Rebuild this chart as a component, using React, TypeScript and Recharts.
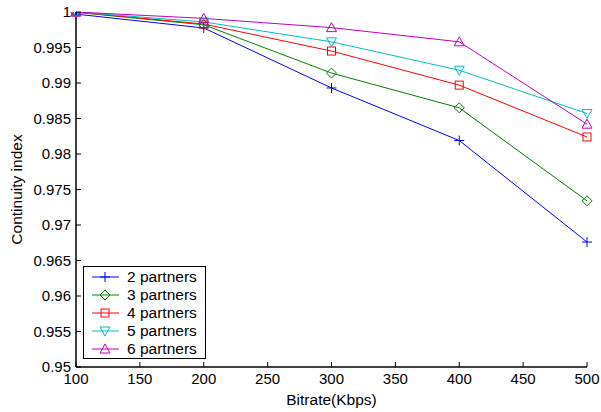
import React from 'react';
import { LineChart, Line, XAxis, YAxis } from 'recharts';

const bitrates = [100, 200, 300, 400, 500];
const partners2 = [0.9997, 0.99775, 0.9893, 0.9819, 0.9676];
const partners3 = [0.99995, 0.9982, 0.9914, 0.9865, 0.9734];
const partners4 = [1.0, 0.9983, 0.9945, 0.9897, 0.9824];
const partners5 = [1.0, 0.9986, 0.9958, 0.9918, 0.9857];
const partners6 = [1.0, 0.9991, 0.9978, 0.9958, 0.9842];
const xTicks = [100, 150, 200, 250, 300, 350, 400, 450, 500];
const yTicks = [0.95, 0.955, 0.96, 0.965, 0.97, 0.975, 0.98, 0.985, 0.99, 0.995, 1];

const data = bitrates.map((x, i) => ({
  x,
  p2: partners2[i],
  p3: partners3[i],
  p4: partners4[i],
  p5: partners5[i],
  p6: partners6[i],
}));

const FONT = '"Liberation Sans", Arial, Helvetica, sans-serif';
const TICK = 5;

type MarkerKind = 'plus' | 'diamond' | 'square' | 'down' | 'up';

const series: { key: string; name: string; color: string; marker: MarkerKind }[] = [
  { key: 'p2', name: '2 partners', color: '#0000ff', marker: 'plus' },
  { key: 'p3', name: '3 partners', color: '#008000', marker: 'diamond' },
  { key: 'p4', name: '4 partners', color: '#ff0000', marker: 'square' },
  { key: 'p5', name: '5 partners', color: '#00bfbf', marker: 'down' },
  { key: 'p6', name: '6 partners', color: '#bf00bf', marker: 'up' },
];

function Marker({ kind, cx, cy, color }: { kind: MarkerKind; cx: number; cy: number; color: string }) {
  const s = { fill: 'none', stroke: color, strokeWidth: 1 };
  if (kind === 'plus')
    return (
      <g>
        <line x1={cx - 5} y1={cy} x2={cx + 5} y2={cy} {...s} />
        <line x1={cx} y1={cy - 5} x2={cx} y2={cy + 5} {...s} />
      </g>
    );
  if (kind === 'diamond')
    return <polygon points={`${cx},${cy - 5} ${cx + 5},${cy} ${cx},${cy + 5} ${cx - 5},${cy}`} {...s} />;
  if (kind === 'square') return <rect x={cx - 4} y={cy - 4} width={8} height={8} {...s} />;
  if (kind === 'down')
    return <polygon points={`${cx - 5},${cy - 4} ${cx + 5},${cy - 4} ${cx},${cy + 5}`} {...s} />;
  return <polygon points={`${cx - 5},${cy + 4} ${cx + 5},${cy + 4} ${cx},${cy - 5}`} {...s} />;
}

const fmtY = (v: number) => String(Number(v.toFixed(3)));

const BottomTick = (props: any) => {
  const { x, y, payload } = props;
  return (
    <g>
      <line x1={x} y1={y} x2={x} y2={y - TICK} stroke="#000" />
      <text x={x} y={y + 17} textAnchor="middle" fontSize={15} fontFamily={FONT} fill="#000">
        {payload.value}
      </text>
    </g>
  );
};

const TopTick = (props: any) => {
  const { x, y } = props;
  return <line x1={x} y1={y} x2={x} y2={y + TICK} stroke="#000" />;
};

const LeftTick = (props: any) => {
  const { x, y, payload } = props;
  return (
    <g>
      <line x1={x} y1={y} x2={x + TICK} y2={y} stroke="#000" />
      <text x={x - 5} y={y + 5} textAnchor="end" fontSize={15} fontFamily={FONT} fill="#000">
        {fmtY(payload.value)}
      </text>
    </g>
  );
};

const RightTick = (props: any) => {
  const { x, y } = props;
  return <line x1={x} y1={y} x2={x - TICK} y2={y} stroke="#000" />;
};

const LegendBox = () => (
  <div
    style={{
      position: 'absolute',
      left: 83,
      top: 266,
      width: 123,
      height: 93,
      border: '1.5px solid #000',
      background: '#fff',
      boxSizing: 'border-box',
      paddingTop: 1,
    }}
  >
    {series.map((s) => (
      <div key={s.key} style={{ display: 'flex', alignItems: 'center', height: 18, fontFamily: FONT, fontSize: 15.5 }}>
        <svg width={38} height={18} style={{ flex: 'none' }}>
          <line x1={8} y1={9} x2={35} y2={9} stroke={s.color} strokeWidth={1} />
          <Marker kind={s.marker} cx={21} cy={9} color={s.color} />
        </svg>
        <span style={{ marginLeft: 5, color: '#000' }}>{s.name}</span>
      </div>
    ))}
  </div>
);

export default function App() {
  return (
    <div style={{ position: 'absolute', left: 0, top: 0, width: 601, height: 412, background: '#fff' }}>
      <LineChart width={601} height={412} data={data} margin={{ top: 12, right: 14, bottom: 0, left: 0 }}>
        <XAxis
          xAxisId="bottom"
          dataKey="x"
          type="number"
          domain={[100, 500]}
          ticks={xTicks}
          height={45}
          tickSize={0}
          tickMargin={0}
          tick={<BottomTick />}
          axisLine={{ stroke: '#000', strokeWidth: 1.5 }}
          tickLine={false}
          interval={0}
          label={{ value: 'Bitrate(Kbps)', position: 'insideBottom', offset: 7, fontSize: 15.5, fontFamily: FONT, fill: '#000' }}
        />
        <XAxis
          xAxisId="top"
          orientation="top"
          dataKey="x"
          type="number"
          domain={[100, 500]}
          ticks={xTicks}
          height={0}
          tickSize={0}
          tickMargin={0}
          tick={<TopTick />}
          axisLine={{ stroke: '#000', strokeWidth: 1.5 }}
          tickLine={false}
          interval={0}
        />
        <YAxis
          yAxisId="left"
          type="number"
          domain={[0.95, 1]}
          ticks={yTicks}
          width={76}
          tickSize={0}
          tickMargin={0}
          tick={<LeftTick />}
          axisLine={{ stroke: '#000', strokeWidth: 1.5 }}
          tickLine={false}
          interval={0}
          allowDataOverflow
          label={{
            value: 'Continuity index',
            angle: -90,
            position: 'insideLeft',
            offset: 16,
            style: { textAnchor: 'middle' },
            fontSize: 15.5,
            fontFamily: FONT,
            fill: '#000',
          }}
        />
        <YAxis
          yAxisId="right"
          orientation="right"
          type="number"
          domain={[0.95, 1]}
          ticks={yTicks}
          width={0}
          tickSize={0}
          tickMargin={0}
          tick={<RightTick />}
          axisLine={{ stroke: '#000', strokeWidth: 1.5 }}
          tickLine={false}
          interval={0}
          allowDataOverflow
        />
        {series.map((s) => (
          <Line
            key={s.key}
            xAxisId="bottom"
            yAxisId="left"
            dataKey={s.key}
            name={s.name}
            type="linear"
            stroke={s.color}
            strokeWidth={1}
            isAnimationActive={false}
            dot={(p: any) => <Marker key={`${s.key}-${p.index}`} kind={s.marker} cx={p.cx} cy={p.cy} color={s.color} />}
            activeDot={false}
          />
        ))}
      </LineChart>
      <LegendBox />
    </div>
  );
}
